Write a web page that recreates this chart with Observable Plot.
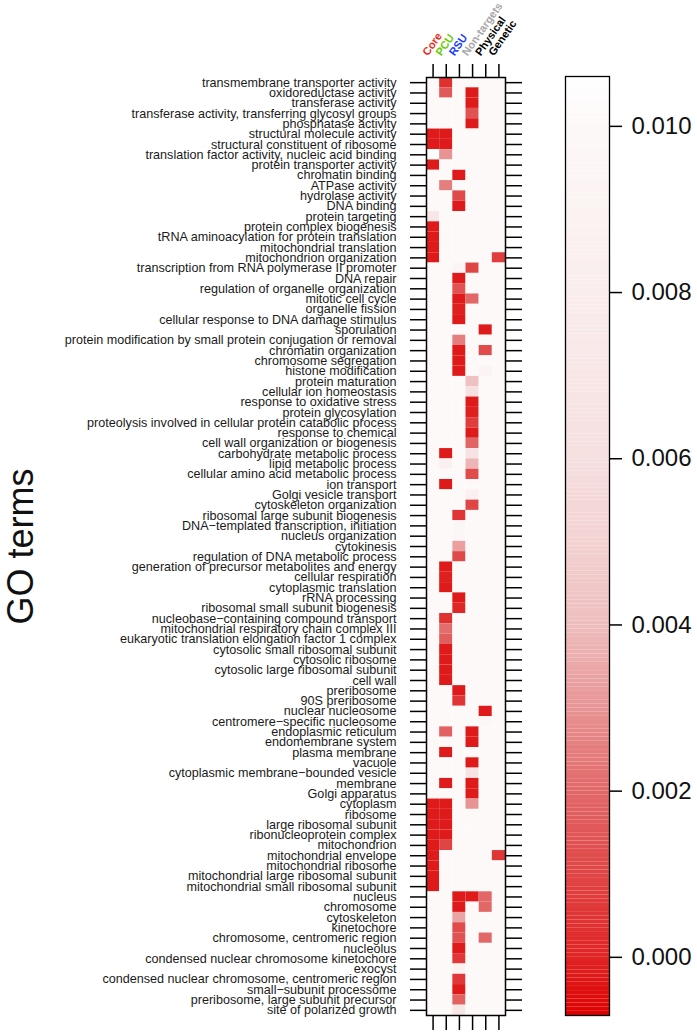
<!DOCTYPE html>
<html><head><meta charset="utf-8">
<script src="https://cdn.jsdelivr.net/npm/d3@7"></script>
<script src="https://cdn.jsdelivr.net/npm/@observablehq/plot@0.6"></script>
<style>
body{margin:0;background:#fff;}
#wrap{display:flex;width:697px;height:1032px;}
</style></head><body><div id="wrap"></div>
<script>
const groups = ["Core","PCU","RSU","Non-targets","Physical","Genetic"];
const groupColors = ["#ee2c1a","#66cc00","#1a3cff","#a8a8a8","#000000","#000000"];
const terms = [
"transmembrane transporter activity","oxidoreductase activity","transferase activity",
"transferase activity, transferring glycosyl groups","phosphatase activity","structural molecule activity",
"structural constituent of ribosome","translation factor activity, nucleic acid binding","protein transporter activity",
"chromatin binding","ATPase activity","hydrolase activity","DNA binding","protein targeting",
"protein complex biogenesis","tRNA aminoacylation for protein translation","mitochondrial translation",
"mitochondrion organization","transcription from RNA polymerase II promoter","DNA repair",
"regulation of organelle organization","mitotic cell cycle","organelle fission",
"cellular response to DNA damage stimulus","sporulation",
"protein modification by small protein conjugation or removal","chromatin organization",
"chromosome segregation","histone modification","protein maturation","cellular ion homeostasis",
"response to oxidative stress","protein glycosylation",
"proteolysis involved in cellular protein catabolic process","response to chemical",
"cell wall organization or biogenesis","carbohydrate metabolic process","lipid metabolic process",
"cellular amino acid metabolic process","ion transport","Golgi vesicle transport",
"cytoskeleton organization","ribosomal large subunit biogenesis",
"DNA\u2212templated transcription, initiation","nucleus organization","cytokinesis",
"regulation of DNA metabolic process","generation of precursor metabolites and energy",
"cellular respiration","cytoplasmic translation","rRNA processing",
"ribosomal small subunit biogenesis","nucleobase\u2212containing compound transport",
"mitochondrial respiratory chain complex III","eukaryotic translation elongation factor 1 complex",
"cytosolic small ribosomal subunit","cytosolic ribosome","cytosolic large ribosomal subunit",
"cell wall","preribosome","90S preribosome","nuclear nucleosome",
"centromere\u2212specific nucleosome","endoplasmic reticulum","endomembrane system",
"plasma membrane","vacuole","cytoplasmic membrane\u2212bounded vesicle","membrane",
"Golgi apparatus","cytoplasm","ribosome","large ribosomal subunit","ribonucleoprotein complex",
"mitochondrion","mitochondrial envelope","mitochondrial ribosome",
"mitochondrial large ribosomal subunit","mitochondrial small ribosomal subunit","nucleus",
"chromosome","cytoskeleton","kinetochore","chromosome, centromeric region","nucleolus",
"condensed nuclear chromosome kinetochore","exocyst",
"condensed nuclear chromosome, centromeric region","small\u2212subunit processome",
"preribosome, large subunit precursor","site of polarized growth"];

// value of every cell not listed below
const background = 0.0101;
// [term number (1-based), group, value]
const hits = [
[1,"PCU",0.0004],
[2,"PCU",0.0016],[2,"Non-targets",-0.0002],
[3,"Non-targets",-0.0002],
[4,"Non-targets",0.0014],
[5,"Non-targets",-0.0002],
[6,"Core",-0.0002],[6,"PCU",-0.0002],
[7,"Core",-0.0002],[7,"PCU",-0.0002],
[8,"Core",0.0106],[8,"PCU",0.003],
[9,"Core",-0.0002],
[10,"RSU",-0.0002],
[11,"PCU",0.0025],
[12,"RSU",0.0011],
[13,"RSU",-0.0002],
[14,"Core",0.0068],
[15,"Core",-0.0002],
[16,"Core",-0.0002],
[17,"Core",-0.0002],
[18,"Core",-0.0002],[18,"Genetic",0.0008],
[19,"RSU",0.0095],[19,"Non-targets",0.001],
[20,"RSU",-0.0002],
[21,"RSU",0.0014],
[22,"RSU",-0.0002],[22,"Non-targets",0.002],
[23,"RSU",-0.0001],
[24,"RSU",-0.0002],
[25,"Physical",-0.0002],
[26,"RSU",0.0025],
[27,"RSU",-0.0002],[27,"Physical",0.0012],
[28,"RSU",-0.0002],
[29,"RSU",-0.0002],[29,"Physical",0.0092],
[30,"Non-targets",0.0042],
[31,"Non-targets",0.0062],
[32,"Non-targets",-0.0002],
[33,"Non-targets",-0.0001],
[34,"Non-targets",0.0008],
[35,"Non-targets",-0.0002],
[36,"Non-targets",0.0019],
[37,"PCU",-0.0002],[37,"Non-targets",0.0066],
[38,"PCU",0.0085],[38,"Non-targets",0.0038],
[39,"Non-targets",0.0012],
[40,"PCU",-0.0002],
[41,"Non-targets",0.0085],
[42,"Non-targets",0.001],
[43,"RSU",0.0005],
[44,"RSU",0.0097],
[45,"RSU",0.0097],
[46,"RSU",0.0033],
[47,"RSU",0.0011],
[48,"PCU",-0.0002],
[49,"PCU",-0.0001],
[50,"PCU",-0.0002],
[51,"RSU",-0.0002],
[52,"RSU",0.0001],
[53,"PCU",0.0004],
[54,"PCU",0.0021],
[55,"PCU",0.0017],
[56,"PCU",-0.0002],
[57,"PCU",-0.0002],
[58,"PCU",-0.0002],
[59,"PCU",-0.0002],
[60,"RSU",-0.0002],
[61,"RSU",0.0005],
[62,"Physical",-0.0002],
[63,"Physical",0.0097],
[64,"PCU",0.0018],[64,"Non-targets",-0.0002],
[65,"Non-targets",-0.0002],
[66,"PCU",-0.0002],
[67,"Non-targets",-0.0002],
[68,"Non-targets",0.0065],
[69,"PCU",-0.0002],[69,"Non-targets",-0.0002],
[70,"Non-targets",-0.0002],
[71,"Core",-0.0002],[71,"PCU",-0.0002],[71,"Non-targets",0.003],
[72,"Core",-0.0002],[72,"PCU",-0.0002],
[73,"Core",-0.0002],[73,"PCU",-0.0002],
[74,"Core",-0.0002],[74,"PCU",-0.0002],
[75,"Core",-0.0002],[75,"PCU",0.001],
[76,"Core",-0.0002],[76,"Genetic",0.0005],
[77,"Core",-0.0002],
[78,"Core",-0.0002],
[79,"Core",-0.0002],
[80,"RSU",-0.0002],[80,"Non-targets",-0.0002],[80,"Physical",0.002],
[81,"RSU",-0.0002],[81,"Physical",0.002],
[82,"RSU",0.0034],
[83,"RSU",0.0012],
[84,"RSU",0.0014],[84,"Physical",0.002],
[85,"RSU",-0.0002],
[86,"RSU",0.0006],
[87,"RSU",0.0088],
[88,"RSU",0.0006],
[89,"RSU",-0.0002],
[90,"RSU",0.0018],
[91,"RSU",0.0072]
];

const colorStops = [-0.0007, 0, 0.001, 0.002, 0.003, 0.004, 0.005, 0.006, 0.008, 0.010, 0.0106];
const colorRange = ["#dd0000","#e02424","#e04545","#e26868","#e89494","#eebdbd","#f3d2d2","#f6dfdf","#faeded","#fdf8f8","#ffffff"];
const colorbarTicks = [0, 0.002, 0.004, 0.006, 0.008, 0.010];

const grid = [];
const idx = new Map();
terms.forEach(t => groups.forEach(g => { const d = {term: t, group: g, v: background}; grid.push(d); idx.set(t + "|" + g, d); }));
hits.forEach(([r, g, v]) => { idx.get(terms[r - 1] + "|" + g).v = v; });

const font = "'Liberation Sans', Arial, Helvetica, sans-serif";
const colorOpts = {type: "linear", domain: colorStops, range: colorRange, clamp: true};

const heat = Plot.plot({
  width: 530, height: 1032,
  marginLeft: 426, marginRight: 25, marginTop: 77, marginBottom: 17,
  style: {fontFamily: font, background: "white", overflow: "visible"},
  x: {domain: groups, padding: 0, round: false},
  y: {domain: terms, padding: 0, round: false},
  color: colorOpts,
  marks: [
    Plot.cell(grid, {x: "group", y: "term", fill: "v", inset: 0}),
    Plot.frame({stroke: "black", strokeWidth: 1.5}),
    Plot.axisY({anchor: "left", tickSize: 16, tickPadding: 14, fontSize: 12.6, strokeWidth: 1.5, label: null, fill: "#1a1a1a"}),
    Plot.axisY({anchor: "right", tickSize: 16, tickFormat: () => "", strokeWidth: 1.5, label: null}),
    Plot.axisX({anchor: "top", tickSize: 14, tickFormat: () => "", strokeWidth: 1.5, label: null}),
    Plot.axisX({anchor: "bottom", tickSize: 15, tickFormat: () => "", strokeWidth: 1.5, label: null}),
    ...groups.map((g, i) => Plot.text([g], {x: d => d, frameAnchor: "top", dy: -21, dx: -5, rotate: -55,
      textAnchor: "start", lineAnchor: "bottom", fill: groupColors[i], fontWeight: "bold", fontSize: 11})),
    Plot.text(["GO terms"], {frameAnchor: "left", dx: -405, rotate: -90, fontSize: 36, textAnchor: "middle", fill: "#111"})
  ]
});

const cbMin = colorStops[0], cbMax = colorStops[colorStops.length - 1];
const step = 0.00005;
const bands = d3.range(cbMin, cbMax, step).map(v => ({y1: v, y2: Math.min(v + step, cbMax), v: v + step / 2}));

const bar = Plot.plot({
  width: 167, height: 1032,
  marginLeft: 35, marginRight: 88, marginTop: 76, marginBottom: 17,
  style: {fontFamily: font, background: "white", overflow: "visible"},
  y: {domain: [cbMin, cbMax]},
  color: colorOpts,
  marks: [
    Plot.rect(bands, {y1: "y1", y2: "y2", fill: "v"}),
    Plot.frame({stroke: "black", strokeWidth: 1.3}),
    Plot.axisY({anchor: "right", ticks: colorbarTicks, tickFormat: d3.format(".3f"), tickSize: 12, tickPadding: 10,
      fontSize: 24, strokeWidth: 1.5, label: null, fill: "#111"})
  ]
});

document.getElementById("wrap").append(heat, bar);
</script></body></html>
